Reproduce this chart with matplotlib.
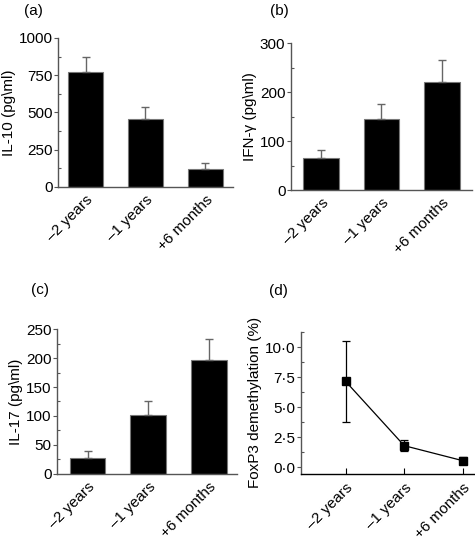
import matplotlib.pyplot as plt
import numpy as np
from matplotlib.ticker import MultipleLocator, FixedLocator

plt.rcParams['font.family'] = ['Liberation Sans', 'DejaVu Sans']

# data
groups = ['\u20132 years', '\u20131 years', '+6 months']

il10 = [770, 454, 121]
il10_err = [105, 85, 42]

ifng = [65, 145, 221]
ifng_err = [17, 30, 45]

il17 = [27, 102, 197]
il17_err = [13, 23, 36]

foxp3 = [7.15, 1.8, 0.55]
foxp3_err = [3.38, 0.45, 0.3]

spine_col = '#555555'
fs = 11

fig = plt.figure(figsize=(4.75, 5.44), dpi=100)


def style_axes(ax):
    for s in ['top', 'right']:
        ax.spines[s].set_visible(False)
    for s in ['left', 'bottom']:
        ax.spines[s].set_color(spine_col)
        ax.spines[s].set_linewidth(1.0)
    ax.tick_params(axis='y', which='major', direction='out', length=3,
                   width=0.8, color=spine_col, labelsize=fs, pad=1)
    ax.tick_params(axis='y', which='minor', direction='in', length=2.5,
                   width=0.8, color=spine_col)
    ax.tick_params(axis='x', labelsize=fs)


def bar_panel(rect, vals, errs, ylabel, ymax, major, letter, lpos, xlim):
    ax = fig.add_axes(rect)
    x = np.arange(len(groups))
    ax.bar(x, vals, width=0.59, color='black', edgecolor='#777777',
           linewidth=0.8)
    ax.errorbar(x, vals, yerr=[np.zeros(len(errs)), errs], fmt='none',
                ecolor='#666666', elinewidth=1.0, capsize=3, capthick=1.0)
    ax.set_xlim(*xlim)
    ax.set_ylim(0, ymax)
    ax.yaxis.set_major_locator(MultipleLocator(major))
    ax.yaxis.set_minor_locator(MultipleLocator(major / 2))
    ax.set_xticks(x)
    ax.set_xticklabels(groups, rotation=45, ha='right', va='top',
                       rotation_mode='anchor', fontsize=fs)
    ax.tick_params(axis='x', length=0, pad=4)
    style_axes(ax)
    ax.set_ylabel(ylabel, fontsize=fs, labelpad=2)
    ax.text(lpos[0], lpos[1], letter, transform=ax.transAxes, fontsize=fs,
            ha='center', va='center')
    return ax


bar_panel([0.1221, 0.6563, 0.368, 0.2739], il10, il10_err,
          'IL-10 (pg\\ml)', 1000, 250, '(a)', (-0.143, 1.18), (-0.46, 2.46))
bar_panel([0.6126, 0.6507, 0.381, 0.2697], ifng, ifng_err,
          'IFN-\u03b3 (pg\\ml)', 300, 100, '(b)', (-0.066, 1.22), (-0.5, 2.5))
bar_panel([0.1206, 0.1287, 0.379, 0.2665], il17, il17_err,
          'IL-17 (pg\\ml)', 250, 50, '(c)', (-0.096, 1.27), (-0.5, 2.47))

# panel (d)
ax = fig.add_axes([0.633, 0.1287, 0.367, 0.2616])
x = np.arange(len(groups))
ax.errorbar(x, foxp3, yerr=foxp3_err, fmt='-s', color='black', ms=6,
            lw=0.9, elinewidth=0.9, ecolor='black', capsize=3, capthick=0.9)
ax.set_xlim(-0.77, 2.21)
ax.set_ylim(-0.56, 11.3)
ax.yaxis.set_major_locator(FixedLocator([0, 2.5, 5, 7.5, 10]))
ax.set_yticklabels(['0\u00b70', '2\u00b75', '5\u00b70', '7\u00b75', '10\u00b70'])
ax.yaxis.set_minor_locator(FixedLocator([1.25, 3.75, 6.25, 8.75, 11.25]))
ax.set_xticks(x)
ax.set_xticklabels(groups, rotation=45, ha='right', va='top',
                   rotation_mode='anchor', fontsize=fs)
style_axes(ax)
ax.spines['bottom'].set_color('black')
ax.tick_params(axis='x', direction='in', length=4, width=0.8,
               color='black', pad=5)
ax.set_ylabel('FoxP3 demethylation (%)', fontsize=fs, labelpad=2)
ax.text(-0.125, 1.286, '(d)', transform=ax.transAxes, fontsize=fs,
        ha='center', va='center')

fig.savefig('out.png', dpi=100)
